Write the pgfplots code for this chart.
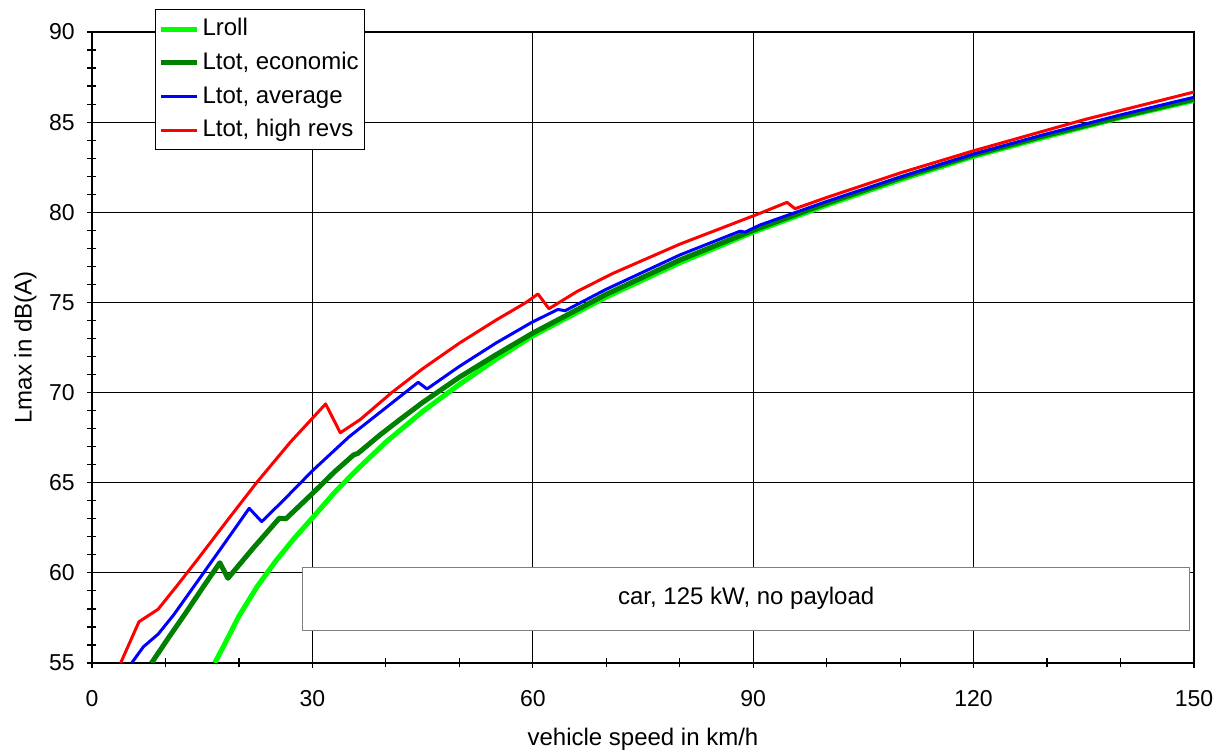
\documentclass[border=0pt]{standalone}
\usepackage{pgfplots}
\pgfplotsset{compat=1.18}
\usepackage{fontspec}
\setmainfont{Liberation Sans}
\definecolor{lgreen}{RGB}{0,255,0}
\definecolor{dgreen}{RGB}{0,128,0}
\begin{document}
\fontsize{12}{14.4}\selectfont
\begin{tikzpicture}
\begin{axis}[name=ax,
  scale only axis, width=551pt, height=315.5pt,
  xmin=0, xmax=150, ymin=55, ymax=90,
  xtick={0,30,...,150}, ytick={55,60,...,90},
  minor x tick num=2, minor y tick num=4,
  xtick pos=lower, ytick pos=left,
  tick align=center,
  major tick length=5pt, minor tick length=4.5pt,
  every tick/.style={black, line width=0.6pt},
  grid=major, grid style={black, line width=0.5pt},
  axis line style={black, line width=0.9pt},
  /pgf/number format/assume math mode=true,
  tick label style={font=\fontsize{11.5}{13.8}\selectfont},
  label style={font=\fontsize{12}{14.4}\selectfont},
  xticklabel style={yshift=-7pt},
  yticklabel style={xshift=-2pt},
  xlabel={vehicle speed in km/h},
  ylabel={Lmax in dB(A)},
  xlabel style={yshift=-2.5pt},
  ylabel style={yshift=-2pt},
  legend style={at={(rel axis cs:0.0572,1.0364)}, anchor=north west,
    draw=black, line width=0.5pt, fill=white, inner xsep=1.5pt, inner ysep=2.5pt,
    row sep=2.5pt, font=\fontsize{12}{14.4}\selectfont,
    nodes={inner xsep=1.5pt}},
  legend cell align=left,
  legend image code/.code={\draw[#1] (0cm,0cm) -- (18pt,0cm);},
  clip=true,
]
\draw[gray, line width=0.5pt, fill=white] (axis cs:28.7,56.83) rectangle (axis cs:149.4,60.27);
\node[font=\fontsize{12}{14.4}\selectfont] at (axis cs:89.05,58.6) {car, 125 kW, no payload};

\addplot[lgreen, line width=2.5pt, line join=round] table {
16.7 55.0
18 56.0
20 57.6
22.5 59.25
25 60.65
27.5 61.9
30 63.05
33 64.45
36 65.7
40 67.25
45 68.95
50 70.45
55 71.85
60 73.15
70 75.3
80 77.2
90 78.9
100 80.4
110 81.8
120 83.1
130 84.2
140 85.25
150 86.2
};
\addlegendentry{Lroll}

\addplot[dgreen, line width=2.5pt, line join=round] table {
8.1 55.0
10.5 56.45
12.8 57.8
15.1 59.2
17.4 60.56
18.5 59.7
22 61.4
25.5 63.03
26.4 63.0
30 64.4
33 65.6
35.6 66.54
36.2 66.63
39.2 67.65
41.9 68.5
45 69.45
50 70.85
55 72.1
60 73.3
70 75.45
80 77.35
90 79.0
100 80.5
110 81.9
120 83.18
130 84.28
140 85.3
150 86.27
};
\addlegendentry{Ltot, economic}

\addplot[blue, line width=1.5pt, line join=round] table {
5.4 55.0
7.0 55.9
9.0 56.6
11.1 57.66
14 59.32
17.4 61.27
21.4 63.58
23.1 62.84
26 64.0
30.1 65.7
35 67.55
41.9 69.77
44.4 70.57
45.6 70.2
50 71.45
55 72.75
59.8 73.88
63.4 74.61
64.4 74.54
70 75.73
80 77.63
88.2 78.95
88.9 78.9
90.9 79.29
100 80.6
110 81.95
120 83.23
130 84.35
140 85.4
150 86.38
};
\addlegendentry{Ltot, average}

\addplot[red, line width=1.5pt, line join=round] table {
3.9 55.0
6.4 57.29
9.0 57.98
11.5 59.25
14.3 60.71
18.5 62.95
22.4 65.0
27 67.25
31.8 69.37
33.8 67.77
36.5 68.5
40.8 70.0
45 71.32
50 72.74
55 74.02
59.1 75.0
60.7 75.47
62.2 74.65
66 75.6
70.9 76.61
80 78.23
90.9 79.94
94.6 80.55
95.7 80.2
100 80.82
110 82.18
119.9 83.4
134.9 85.12
150 86.67
};
\addlegendentry{Ltot, high revs}
\end{axis}
\pgfresetboundingbox
\path ([xshift=-46pt,yshift=-45pt]ax.south west) rectangle ([xshift=16pt,yshift=16pt]ax.north east);
\end{tikzpicture}
\end{document}
